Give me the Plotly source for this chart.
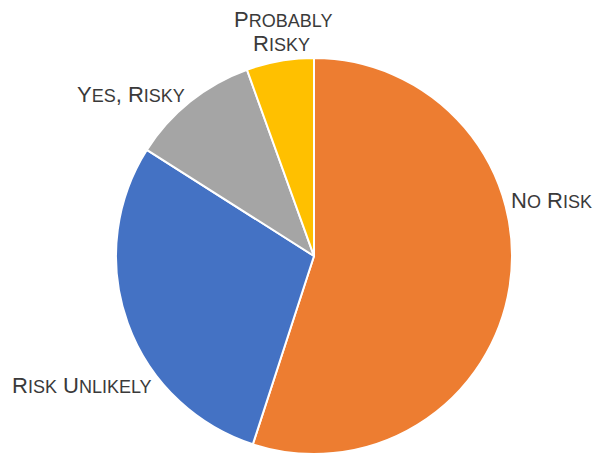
import plotly.graph_objects as go

categories = ["No Risk", "Risk Unlikely", "Yes, Risky", "Probably Risky"]
values = [55.0, 29.0, 10.5, 5.5]
colors = ["#ED7D31", "#4472C4", "#A5A5A5", "#FFC000"]

W, H = 604, 458
BIG, SMALL = 22, 18
# label lines with pixel centers
label_lines = {
    "No Risk": [("No Risk", 551, 200)],
    "Risk Unlikely": [("Risk Unlikely", 82, 385)],
    "Yes, Risky": [("Yes, Risky", 131, 95)],
    "Probably Risky": [("Probably", 283, 19), ("Risky", 281, 43)],
}


def small_caps(s):
    out = []
    run = ""
    for ch in s:
        if ch.islower():
            run += ch.upper()
        else:
            if run:
                out.append(f"<span style='font-size:{SMALL}px'>{run}</span>")
                run = ""
            out.append(ch)
    if run:
        out.append(f"<span style='font-size:{SMALL}px'>{run}</span>")
    return "".join(out)


fig = go.Figure(go.Pie(
    labels=categories,
    values=values,
    sort=False,
    direction="clockwise",
    rotation=0,
    marker=dict(colors=colors, line=dict(color="white", width=2)),
    textinfo="none",
    hoverinfo="label+percent",
    showlegend=False,
    domain=dict(x=[116 / W, 512 / W], y=[1 - 454 / H, 1 - 58 / H]),
))

annotations = []
for c in categories:
    for txt, px, py in label_lines[c]:
        annotations.append(dict(
            text=small_caps(txt),
            x=px / W, y=1 - py / H, xref="paper", yref="paper",
            xanchor="center", yanchor="middle", showarrow=False,
            font=dict(family="Liberation Sans, Arial", size=BIG, color="#3a3a3a"),
        ))

fig.update_layout(
    width=W, height=H,
    margin=dict(l=0, r=0, t=0, b=0),
    paper_bgcolor="white",
    plot_bgcolor="white",
    annotations=annotations,
)

fig.write_html("out.html")
